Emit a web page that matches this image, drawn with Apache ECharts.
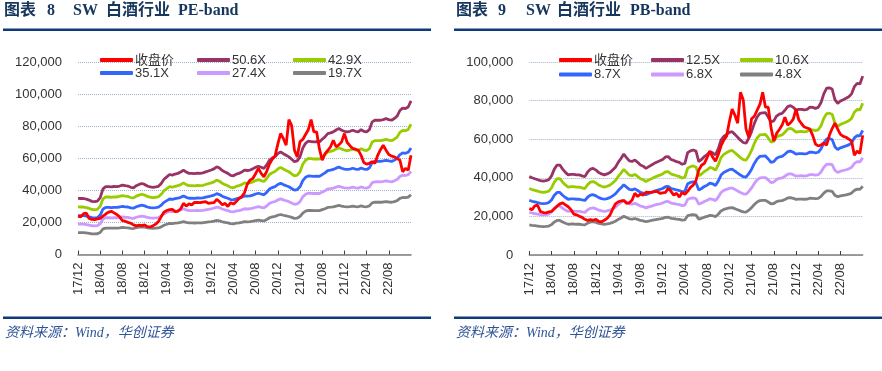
<!DOCTYPE html>
<html><head><meta charset="utf-8">
<script src="https://cdn.jsdelivr.net/npm/echarts@6/dist/echarts.min.js"></script>
<style>html,body{margin:0;padding:0;background:#fff}#c{width:882px;height:371px}</style>
</head><body><div id="c"></div>
<script>
// tick labels (YY/MM), every 4 months from 17/12
const tickLabels = ['17/12','18/04','18/08','18/12','19/04','19/08','19/12','20/04','20/08','20/12','21/04','21/08','21/12','22/04','22/08'];
// half-monthly points from Dec 2017 to Dec 2022
const closePrice = [
 24000,23500,25500,25800,22500,22000,21800,22300,22600,24000,
 25300,26500,27000,26000,25000,23500,21200,20800,20100,19500,
 18500,17900,18300,18000,18500,17400,17200,18000,19000,20600,
 23700,26500,27500,28000,28200,26800,27000,28500,32000,30300,
 31600,31000,32600,32500,32400,32800,33000,32000,32200,32400,
 34500,33000,31000,32000,30000,32400,31500,33000,35000,36200,
 38600,44000,46500,47500,50500,53800,50700,48600,52000,56500,
 59500,61500,69000,75600,72500,68300,84300,80500,65200,61000,
 70600,71900,75000,78000,84300,76600,76600,66000,59000,63000,
 65000,67300,71400,67300,68500,70400,75600,70000,68000,66300,
 65800,65200,62000,57500,56500,57000,58000,57000,62000,65500,
 68300,65200,62500,61500,61000,60000,59000,51700,53800,52700,
 62000];
// PE band at 50.6X (top band), as read
const peTopBand = [
 35100,35000,35000,34600,34000,33200,33000,33300,35500,41000,
 42400,42400,42200,42500,42400,42800,43400,43000,42800,42000,
 41700,43000,43800,44400,43800,42800,42200,42000,42200,42600,
 44400,47000,48500,50000,49600,50300,50700,51500,52800,51500,
 50700,50700,50600,50900,50700,51000,51600,52200,52800,53500,
 54800,54000,52500,51500,50700,49500,49200,50200,50700,51500,
 52800,52500,52800,53500,54500,55200,54500,53800,56000,59000,
 60300,61200,63000,64200,63000,62000,61000,59500,58000,58500,
 61000,66500,69500,70800,70600,70400,70500,70400,72000,73500,
 75600,76000,76600,77800,78700,77700,77000,76600,77000,77700,
 77000,76600,78000,77000,76600,78000,82900,83900,84000,83900,
 84300,84900,84300,83900,85000,86500,90000,91500,91200,92200,
 96000];
const peMultiples = [50.6, 42.9, 35.1, 27.4, 19.7];
// PB band at 12.5X (top band), as read
const pbTopBand = [
 40600,40000,39500,39000,38500,38300,38500,39000,41000,44500,
 46600,46600,44500,42800,41500,41800,41800,41500,41500,41000,
 40600,43000,44500,44900,44000,42700,42000,41500,42000,42700,
 44000,45500,48000,50000,52300,50500,48800,48500,49200,48000,
 46600,46000,44900,45800,46600,47500,48200,48800,49500,50800,
 51000,49500,49000,48400,48000,47000,47500,53000,54000,54400,
 53800,48400,49500,51000,52000,53500,53000,51800,55000,59500,
 61500,62500,63500,63900,62500,61000,59500,58300,57900,60500,
 63900,68200,71500,73400,73600,73700,71500,69000,69500,72000,
 73000,73400,75000,76900,77400,76500,75100,75400,75500,75200,
 75500,76600,76500,76000,76500,79000,83500,86400,86600,86000,
 80500,78600,79800,80500,81200,82000,83500,87200,88900,88600,
 92700];
const pbMultiples = [12.5, 10.6, 8.7, 6.8, 4.8];
const closeName = '收盘价';
const bandColors = ['#993366', '#99cc00', '#3366ff', '#cc99ff', '#808080'];
const closeColor = '#ff0000';

const tickPos = tickLabels.map(s => { const [y, m] = s.split('/').map(Number); return (y - 17) * 12 + (m - 12); });
const labelAt = v => { const i = tickPos.indexOf(v); return i >= 0 ? tickLabels[i] : ''; };
const toPts = arr => arr.map((v, i) => [i / 2, v]);

const F = '"Liberation Sans","Noto Sans CJK SC",sans-serif';
function axes(gi, ymax) {
  return {
    x: { type: 'value', gridIndex: gi, min: 0, max: 60,
      axisLine: { lineStyle: { color: '#808080', width: 1.5 } },
      axisTick: { show: true, inside: true, length: 4, customValues: tickPos, lineStyle: { color: '#404040', width: 1 } },
      axisLabel: { customValues: tickPos, rotate: 90, formatter: labelAt, fontSize: 13, fontFamily: F, color: '#333', margin: 8 },
      splitLine: { show: false } },
    y: { type: 'value', gridIndex: gi, min: 0, max: ymax, interval: 20000,
      axisLine: { show: false }, axisTick: { show: false },
      axisLabel: { formatter: v => v.toLocaleString('en-US'), fontSize: 13, fontFamily: F, color: '#333', margin: 16 },
      splitLine: { lineStyle: { type: 'dotted', color: '#9fb2cc', width: 1 } } }
  };
}
const a0 = axes(0, 120000), a1 = axes(1, 100000);

function seriesFor(gi, top, mults) {
  const s = [];
  mults.forEach((m, k) => {
    s.push({ type: 'line', name: m.toFixed(1) + 'X', xAxisIndex: gi, yAxisIndex: gi, showSymbol: false, symbol: 'none',
      data: toPts(top.map(v => v * m / mults[0])), lineStyle: { width: 2.8, color: bandColors[k] }, itemStyle: { color: bandColors[k] }, z: 2, animation: false });
  });
  s.unshift({ type: 'line', name: closeName, xAxisIndex: gi, yAxisIndex: gi, showSymbol: false, symbol: 'none',
    data: toPts(closePrice), lineStyle: { width: 2.8, color: closeColor }, itemStyle: { color: closeColor }, z: 3, animation: false });
  return s;
}

function legends(names, lefts, tops) {
  return names.map((n, i) => ({
    data: [n], left: lefts[i % 3], top: tops[Math.floor(i / 3)], padding: 0, icon: 'roundRect',
    itemWidth: 33, itemHeight: 4, selectedMode: false,
    textStyle: { fontSize: 13, fontFamily: F, color: '#333', lineHeight: 14, padding: [0, 0, 0, -3] }
  }));
}
const peNames = [closeName].concat(peMultiples.map(m => m.toFixed(1) + 'X'));
const pbNames = [closeName].concat(pbMultiples.map(m => m.toFixed(1) + 'X'));

const TF = 'bold 16px "Liberation Serif","Noto Sans CJK SC",serif';
const TC = '#17365d';
function titleParts(x0, parts) {
  return parts.map(p => ({ type: 'text', left: x0 + p[1], top: 3, style: { text: p[0], font: TF, fill: TC } }));
}
const FF = 'italic 14px "Liberation Serif","Noto Sans CJK SC",serif';

const option = {
  animation: false,
  backgroundColor: '#fff',
  grid: [
    { left: 78, right: 471, top: 62.5, bottom: 116.5 },
    { left: 529.3, right: 19.3, top: 62, bottom: 116 }
  ],
  xAxis: [a0.x, a1.x],
  yAxis: [a0.y, a1.y],
  legend: legends(peNames, [100, 197, 293], [53, 66]).concat(legends(pbNames, [559, 651, 740], [53, 67.5])),
  series: seriesFor(0, peTopBand, peMultiples).concat(seriesFor(1, pbTopBand, pbMultiples)),
  graphic: [
    ...titleParts(4, [['图表', 0], ['8', 43], ['SW', 69], ['白酒行业', 102], ['PE-band', 174]]),
    ...titleParts(456, [['图表', 0], ['9', 42], ['SW', 70], ['白酒行业', 101], ['PB-band', 174]]),
    { type: 'rect', shape: { x: 3, y: 28.5, width: 428, height: 2.5 }, style: { fill: '#0e3a7c' } },
    { type: 'rect', shape: { x: 454, y: 28.5, width: 428, height: 2.5 }, style: { fill: '#0e3a7c' } },
    { type: 'rect', shape: { x: 3, y: 316.5, width: 428, height: 2.5 }, style: { fill: '#0e3a7c' } },
    { type: 'rect', shape: { x: 454, y: 316.5, width: 428, height: 2.5 }, style: { fill: '#0e3a7c' } },
    { type: 'text', left: 5, top: 326, style: { text: '资料来源：Wind，华创证券', font: FF, fill: '#2f5597' } },
    { type: 'text', left: 456, top: 326, style: { text: '资料来源：Wind，华创证券', font: FF, fill: '#2f5597' } }
  ]
};
const chart = echarts.init(document.getElementById('c'), null, { renderer: 'canvas' });
chart.setOption(option);
</script></body></html>
